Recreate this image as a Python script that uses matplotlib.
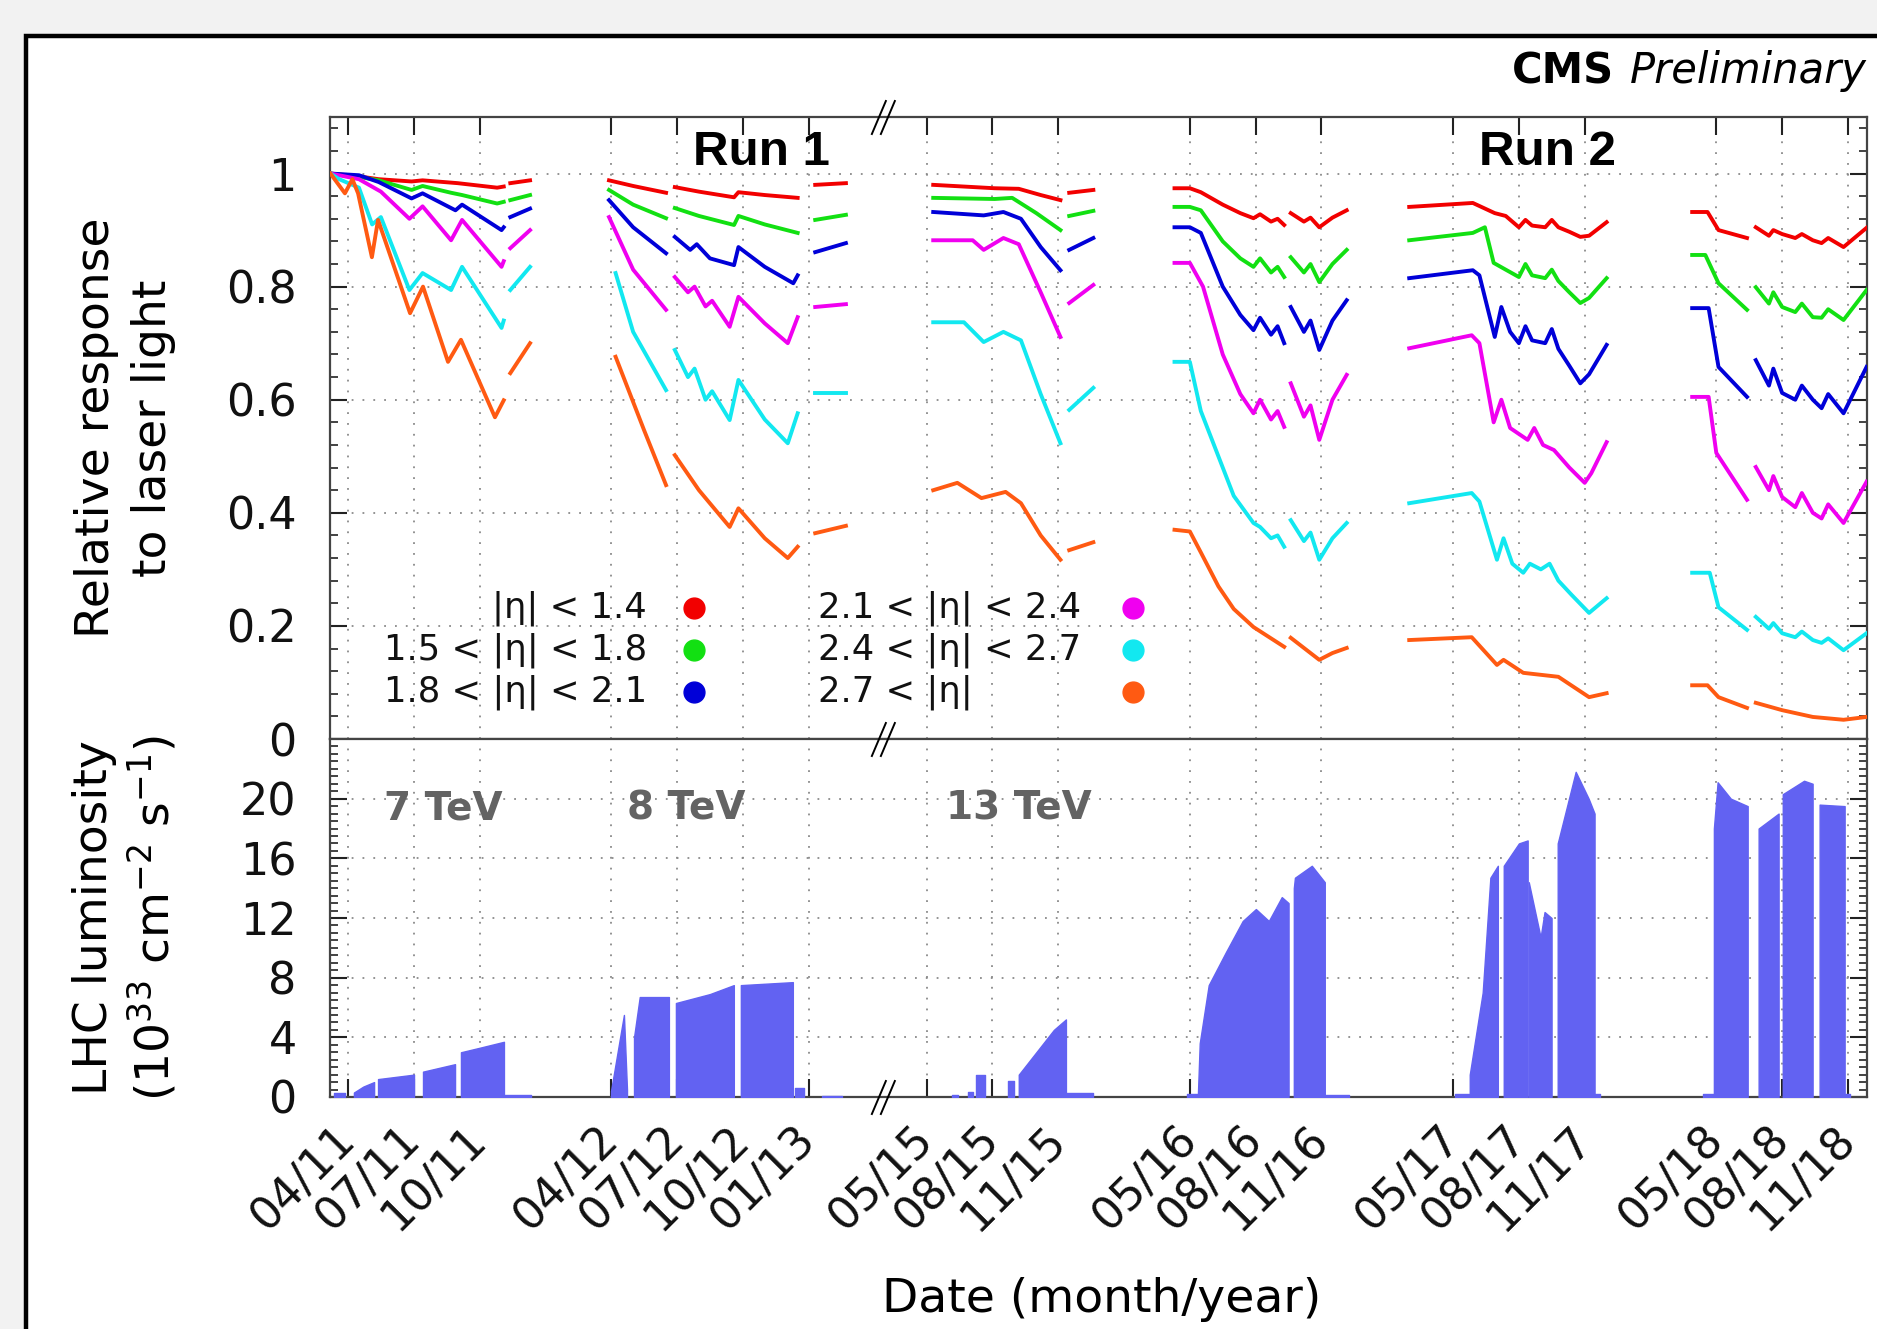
"""CMS ECAL: relative response to laser light and LHC luminosity, Run 1 and Run 2."""

import matplotlib
matplotlib.use("Agg")
import matplotlib.pyplot as plt
from matplotlib.lines import Line2D
from matplotlib.patches import Rectangle
from matplotlib.ticker import FixedLocator, MultipleLocator


W, H = 1877, 1329
GAP = 22.62        # months cut out of the axis between 01/13 and 05/15
BREAK_AT = 27.43   # where the // marks sit, in squeezed months

# x values: months since Jan 2011 (3.0 = 04/11)
TICK_MONTHS = [3, 6, 9, 15, 18, 21, 24, 52, 55, 58, 64, 67, 70, 76, 79, 82, 88, 91, 94]
TICK_LABELS = ["04/11", "07/11", "10/11", "04/12", "07/12", "10/12", "01/13",
               "05/15", "08/15", "11/15", "05/16", "08/16", "11/16",
               "05/17", "08/17", "11/17", "05/18", "08/18", "11/18"]

ETA_LABELS = ["|η| < 1.4", "1.5 < |η| < 1.8", "1.8 < |η| < 2.1",
              "2.1 < |η| < 2.4", "2.4 < |η| < 2.7", "2.7 < |η|"]
ETA_COLORS = ["#f20000", "#12e012", "#0000d8", "#f000f0", "#12e8f0", "#ff5a12"]

# laser response, one list of segments per eta ring
RESP_ETA1 = [
    [(2.2, 1.0), (3.5, 0.995), (4.4, 0.99), (5.9, 0.986), (6.4, 0.988), (8.0, 0.983), (9.8, 0.975), (10.1, 0.977)],
    [(10.4, 0.983), (11.3, 0.988)],
    [(14.9, 0.988), (16.0, 0.978), (17.5, 0.966)],
    [(17.9, 0.976), (19.0, 0.968), (20.6, 0.958), (20.8, 0.967), (22.0, 0.962), (23.5, 0.957)],
    [(24.3, 0.98), (25.7, 0.983)],
    [(52.3, 0.98), (55.1, 0.974), (56.2, 0.973), (57.2, 0.962), (58.1, 0.953)],
    [(58.5, 0.966), (59.6, 0.971)],
    [(63.3, 0.974), (64.0, 0.974), (64.5, 0.967), (65.5, 0.945), (66.3, 0.93), (66.9, 0.921),
     (67.2, 0.928), (67.7, 0.915), (68.0, 0.92), (68.3, 0.909)],
    [(68.6, 0.93), (69.2, 0.915), (69.5, 0.922), (69.9, 0.905), (70.5, 0.922), (71.15, 0.935)],
    [(74.0, 0.941), (76.9, 0.948), (77.9, 0.93), (78.4, 0.925), (79.0, 0.905), (79.3, 0.918),
     (79.6, 0.908), (80.2, 0.905), (80.5, 0.918), (80.8, 0.905), (81.3, 0.897), (81.8, 0.888),
     (82.2, 0.89), (83.0, 0.914)],
    [(86.9, 0.932), (87.6, 0.932), (88.1, 0.90), (89.4, 0.886)],
    [(89.8, 0.905), (90.4, 0.89), (90.6, 0.90), (91.0, 0.893), (91.6, 0.886), (91.9, 0.893),
     (92.4, 0.882), (92.8, 0.877), (93.1, 0.886), (93.8, 0.87), (94.85, 0.904)],
]
RESP_ETA2 = [
    [(2.2, 1.0), (3.5, 0.994), (4.4, 0.988), (5.9, 0.971), (6.4, 0.978), (7.7, 0.966), (8.2, 0.962), (9.8, 0.947), (10.1, 0.95)],
    [(10.4, 0.953), (11.3, 0.962)],
    [(14.9, 0.971), (16.0, 0.945), (17.5, 0.921)],
    [(17.9, 0.939), (19.0, 0.925), (20.6, 0.909), (20.8, 0.925), (22.0, 0.91), (23.5, 0.895)],
    [(24.3, 0.918), (25.7, 0.927)],
    [(52.3, 0.957), (55.1, 0.955), (55.9, 0.957), (57.0, 0.93), (58.1, 0.90)],
    [(58.5, 0.925), (59.6, 0.934)],
    [(63.3, 0.941), (64.0, 0.941), (64.5, 0.935), (65.5, 0.88), (66.3, 0.85), (66.9, 0.835),
     (67.2, 0.85), (67.7, 0.825), (68.0, 0.835), (68.3, 0.817)],
    [(68.6, 0.852), (69.2, 0.825), (69.5, 0.84), (69.9, 0.808), (70.5, 0.84), (71.15, 0.865)],
    [(74.0, 0.882), (76.9, 0.895), (77.45, 0.905), (77.85, 0.842), (78.4, 0.83), (79.0, 0.817),
     (79.3, 0.84), (79.6, 0.82), (80.2, 0.815), (80.5, 0.83), (80.8, 0.81), (81.3, 0.79),
     (81.8, 0.771), (82.2, 0.78), (83.0, 0.815)],
    [(86.9, 0.856), (87.5, 0.856), (88.1, 0.806), (89.4, 0.759)],
    [(89.8, 0.799), (90.4, 0.77), (90.6, 0.79), (91.0, 0.764), (91.6, 0.755), (91.9, 0.77),
     (92.4, 0.746), (92.8, 0.745), (93.1, 0.76), (93.8, 0.741), (94.85, 0.794)],
]
RESP_ETA3 = [
    [(2.2, 1.0), (3.5, 0.997), (4.4, 0.985), (5.9, 0.956), (6.4, 0.965), (7.9, 0.935), (8.2, 0.945), (10.0, 0.90), (10.1, 0.905)],
    [(10.4, 0.923), (11.3, 0.938)],
    [(14.9, 0.953), (16.0, 0.905), (17.5, 0.859)],
    [(17.9, 0.888), (18.6, 0.865), (18.9, 0.875), (19.5, 0.85), (20.6, 0.838), (20.8, 0.87),
     (22.0, 0.835), (23.3, 0.806), (23.5, 0.82)],
    [(24.3, 0.861), (25.7, 0.877)],
    [(52.3, 0.932), (54.6, 0.926), (55.5, 0.932), (56.3, 0.92), (57.2, 0.87), (58.1, 0.829)],
    [(58.5, 0.865), (59.6, 0.886)],
    [(63.3, 0.905), (64.0, 0.905), (64.5, 0.895), (65.5, 0.80), (66.3, 0.75), (66.9, 0.723),
     (67.2, 0.745), (67.7, 0.715), (68.0, 0.73), (68.3, 0.70)],
    [(68.6, 0.764), (69.2, 0.72), (69.5, 0.74), (69.9, 0.688), (70.5, 0.74), (71.15, 0.776)],
    [(74.0, 0.815), (76.9, 0.829), (77.2, 0.82), (77.9, 0.711), (78.2, 0.764), (78.6, 0.72),
     (79.0, 0.70), (79.3, 0.73), (79.6, 0.705), (80.2, 0.70), (80.5, 0.725), (80.8, 0.69),
     (81.3, 0.66), (81.8, 0.629), (82.2, 0.645), (83.0, 0.697)],
    [(86.9, 0.762), (87.65, 0.762), (88.1, 0.658), (89.4, 0.605)],
    [(89.8, 0.67), (90.4, 0.625), (90.6, 0.655), (91.0, 0.612), (91.6, 0.60), (91.9, 0.625),
     (92.4, 0.60), (92.8, 0.585), (93.1, 0.61), (93.8, 0.576), (94.85, 0.658)],
]
RESP_ETA4 = [
    [(2.2, 1.0), (3.5, 0.99), (4.5, 0.968), (5.8, 0.92), (6.4, 0.942), (7.7, 0.882), (8.2, 0.918), (10.0, 0.835), (10.1, 0.845)],
    [(10.4, 0.868), (11.3, 0.90)],
    [(14.9, 0.923), (16.0, 0.83), (17.5, 0.759)],
    [(17.9, 0.817), (18.5, 0.79), (18.8, 0.80), (19.3, 0.765), (19.6, 0.775), (20.4, 0.729),
     (20.8, 0.782), (22.0, 0.735), (23.05, 0.70), (23.5, 0.746)],
    [(24.3, 0.764), (25.7, 0.769)],
    [(52.3, 0.882), (54.1, 0.882), (54.6, 0.865), (55.5, 0.886), (56.2, 0.875), (57.2, 0.79), (58.1, 0.711)],
    [(58.5, 0.771), (59.6, 0.803)],
    [(63.3, 0.842), (64.0, 0.842), (64.6, 0.80), (65.5, 0.68), (66.3, 0.61), (66.9, 0.576),
     (67.2, 0.60), (67.7, 0.565), (68.0, 0.58), (68.3, 0.552)],
    [(68.6, 0.629), (69.2, 0.57), (69.5, 0.59), (69.9, 0.529), (70.5, 0.60), (71.15, 0.644)],
    [(74.0, 0.691), (76.85, 0.714), (77.2, 0.70), (77.85, 0.56), (78.2, 0.60), (78.6, 0.55),
     (79.4, 0.529), (79.7, 0.55), (80.1, 0.52), (80.6, 0.511), (81.3, 0.48), (82.0, 0.453),
     (82.3, 0.47), (83.0, 0.525)],
    [(86.9, 0.605), (87.65, 0.605), (88.0, 0.506), (89.4, 0.423)],
    [(89.8, 0.481), (90.4, 0.44), (90.6, 0.465), (91.0, 0.428), (91.6, 0.41), (91.9, 0.435),
     (92.4, 0.40), (92.8, 0.39), (93.1, 0.415), (93.8, 0.382), (94.85, 0.455)],
]
RESP_ETA5 = [
    [(2.2, 1.0), (2.6, 0.99), (3.5, 0.975), (4.1, 0.91), (4.5, 0.923), (5.8, 0.794), (6.4, 0.824), (7.7, 0.794), (8.2, 0.835), (10.0, 0.727), (10.1, 0.74)],
    [(10.4, 0.794), (11.3, 0.835)],
    [(15.2, 0.824), (16.0, 0.72), (17.5, 0.617)],
    [(17.9, 0.688), (18.5, 0.64), (18.8, 0.655), (19.3, 0.60), (19.6, 0.615), (20.4, 0.564),
     (20.8, 0.635), (22.0, 0.565), (23.05, 0.523), (23.5, 0.576)],
    [(24.3, 0.612), (25.7, 0.612)],
    [(52.3, 0.737), (53.7, 0.737), (54.6, 0.702), (55.5, 0.72), (56.3, 0.705), (57.2, 0.61), (58.1, 0.523)],
    [(58.5, 0.582), (59.6, 0.621)],
    [(63.3, 0.667), (64.0, 0.667), (64.5, 0.58), (65.3, 0.50), (66.0, 0.43), (66.9, 0.382),
     (67.2, 0.375), (67.7, 0.355), (68.0, 0.36), (68.3, 0.34)],
    [(68.6, 0.387), (69.2, 0.35), (69.5, 0.365), (69.9, 0.317), (70.5, 0.355), (71.15, 0.382)],
    [(74.0, 0.417), (76.85, 0.435), (77.2, 0.42), (78.0, 0.317), (78.3, 0.355), (78.7, 0.31),
     (79.2, 0.294), (79.5, 0.31), (80.0, 0.30), (80.4, 0.31), (80.8, 0.28), (81.4, 0.255),
     (82.2, 0.223), (83.0, 0.249)],
    [(86.9, 0.294), (87.7, 0.294), (88.1, 0.233), (89.4, 0.193)],
    [(89.8, 0.216), (90.4, 0.195), (90.6, 0.205), (91.0, 0.187), (91.6, 0.18), (91.9, 0.19),
     (92.4, 0.175), (92.8, 0.17), (93.1, 0.178), (93.8, 0.157), (94.85, 0.187)],
]
RESP_ETA6 = [
    [(2.2, 1.0), (2.86, 0.965), (3.2, 0.99), (3.46, 0.965), (4.09, 0.852), (4.37, 0.918), (5.83, 0.753), (6.42, 0.80), (7.56, 0.667), (8.15, 0.706), (9.7, 0.569), (10.1, 0.599)],
    [(10.4, 0.647), (11.3, 0.70)],
    [(15.2, 0.676), (16.5, 0.546), (17.5, 0.449)],
    [(17.9, 0.502), (19.0, 0.44), (20.4, 0.375), (20.8, 0.408), (22.0, 0.355), (23.05, 0.32), (23.5, 0.34)],
    [(24.3, 0.364), (25.7, 0.377)],
    [(52.3, 0.44), (53.4, 0.453), (54.5, 0.426), (55.6, 0.437), (56.3, 0.417), (57.2, 0.36), (58.1, 0.317)],
    [(58.5, 0.334), (59.6, 0.348)],
    [(63.3, 0.37), (64.0, 0.367), (64.5, 0.33), (65.3, 0.27), (66.0, 0.23), (66.9, 0.198), (68.3, 0.163)],
    [(68.6, 0.179), (69.9, 0.14), (70.5, 0.152), (71.15, 0.161)],
    [(74.0, 0.175), (76.85, 0.18), (78.0, 0.131), (78.3, 0.14), (79.2, 0.117), (80.8, 0.11), (82.2, 0.074), (83.0, 0.081)],
    [(86.9, 0.095), (87.6, 0.095), (88.1, 0.074), (89.4, 0.055)],
    [(89.8, 0.064), (91.0, 0.051), (92.4, 0.039), (93.8, 0.034), (94.85, 0.039)],
]
RESPONSES = [RESP_ETA1, RESP_ETA2, RESP_ETA3, RESP_ETA4, RESP_ETA5, RESP_ETA6]

# peak instantaneous luminosity (1e33 cm-2 s-1), one list per fill block
LUMI_2011 = [
    [(2.36, 0.25), (2.86, 0.25)],
    [(3.27, 0.3), (3.7, 0.7), (4.19, 1.0)],
    [(4.37, 1.2), (6.01, 1.5)],
    [(6.42, 1.7), (7.88, 2.2)],
    [(8.15, 3.0), (9.0, 3.3), (10.11, 3.7)],
    [(10.11, 0.12), (11.34, 0.12)],
]
LUMI_2012 = [
    [(14.99, 0.4), (15.58, 5.5), (15.72, 0.5)],
    [(16.04, 4.0), (16.3, 6.7), (17.63, 6.7)],
    [(17.95, 6.3), (19.5, 6.9), (20.59, 7.5)],
    [(20.91, 7.5), (23.28, 7.7)],
    [(23.37, 0.6), (23.78, 0.6)],
    [(24.6, 0.1), (25.5, 0.1)],
]
LUMI_2015 = [
    [(53.15, 0.15), (53.42, 0.15)],
    [(53.9, 0.35), (54.1, 0.35)],
    [(54.24, 1.5), (54.65, 1.5)],
    [(55.70, 1.1), (55.98, 1.1)],
    [(56.20, 1.5), (57.0, 3.0), (57.8, 4.5), (58.35, 5.2)],
    [(58.35, 0.3), (59.58, 0.3)],
]
LUMI_2016 = [
    [(63.86, 0.2), (64.37, 0.2)],
    [(64.37, 0.3), (64.45, 3.6), (64.86, 7.5), (65.64, 9.7), (66.41, 11.8), (67.01, 12.6), (67.6, 11.8), (68.19, 13.4), (68.5, 13.0)],
    [(68.74, 14.0), (68.79, 14.7), (69.56, 15.5), (70.15, 14.4)],
    [(70.15, 0.12), (71.25, 0.12)],
]
LUMI_2017 = [
    [(76.08, 0.2), (76.76, 0.2)],
    [(76.76, 1.5), (77.35, 7.0), (77.7, 14.7), (78.04, 15.5)],
    [(78.31, 15.5), (79.0, 17.0), (79.40, 17.2)],
    [(79.45, 14.4), (79.99, 10.7), (80.17, 12.4), (80.49, 12.0)],
    [(80.77, 17.0), (81.59, 21.8), (82.18, 20.0), (82.45, 19.0)],
    [(82.45, 0.2), (82.7, 0.2)],
]
LUMI_2018 = [
    [(87.39, 0.2), (87.89, 0.2)],
    [(87.89, 18.0), (88.06, 21.1), (88.66, 20.0), (89.43, 19.5)],
    [(89.93, 18.0), (90.84, 19.0)],
    [(91.03, 20.3), (92.0, 21.2), (92.39, 21.0)],
    [(92.71, 19.6), (93.85, 19.5)],
    [(93.85, 0.2), (94.1, 0.2)],
]
LUMI_BLOCKS = LUMI_2011 + LUMI_2012 + LUMI_2015 + LUMI_2016 + LUMI_2017 + LUMI_2018
LUMI_COLOR = "#6262f2"


def squeeze(month):
    """Map real months onto the broken axis (2013-2014 removed)."""
    return month if month < 30 else month - GAP


def fx(px):
    return px / W


def fy(py):
    return 1.0 - py / H


plt.rcParams["font.family"] = ["DejaVu Sans"]
plt.rcParams["mathtext.default"] = "regular"

fig = plt.figure(figsize=(W / 100, H / 100), dpi=100)
fig.patch.set_facecolor("#f2f2f2")
fig.add_artist(Rectangle((fx(26), -0.2), 1.2, fy(36) + 0.2, transform=fig.transFigure,
                         facecolor="white", edgecolor="black", linewidth=3.2, zorder=-5))

ax1 = fig.add_axes([fx(330), fy(739), (1867 - 330) / W, (739 - 117) / H])
ax2 = fig.add_axes([fx(330), fy(1097), (1867 - 330) / W, (1097 - 739) / H], sharex=ax1)

for series, color in zip(RESPONSES, ETA_COLORS):
    for seg in series:
        xs = [squeeze(m) for m, _ in seg]
        ys = [v for _, v in seg]
        ax1.plot(xs, ys, color=color, lw=2.8, zorder=3)

for block in LUMI_BLOCKS:
    xs = [squeeze(m) for m, _ in block]
    ys = [v for _, v in block]
    ax2.fill_between(xs, 0, ys, color=LUMI_COLOR, lw=1.0, zorder=3)

ax1.set_xlim(2.18, 72.25)
ax1.set_ylim(0, 1.1)
ax2.set_ylim(0, 24)

ticks = [squeeze(m) for m in TICK_MONTHS]
ax2.set_xticks(ticks)
ax2.set_xticklabels(TICK_LABELS, rotation=45, ha="right", va="center",
                    rotation_mode="anchor", fontsize=32)

ax1.yaxis.set_major_locator(FixedLocator([0, 0.2, 0.4, 0.6, 0.8, 1.0]))
ax1.set_yticklabels(["0", "0.2", "0.4", "0.6", "0.8", "1"], fontsize=32)
ax1.yaxis.set_minor_locator(MultipleLocator(0.04))
ax2.yaxis.set_major_locator(FixedLocator([0, 4, 8, 12, 16, 20]))
ax2.set_yticklabels(["0", "4", "8", "12", "16", "20"], fontsize=32)
ax2.yaxis.set_minor_locator(MultipleLocator(0.5))

grid_style = dict(color="#8a8a8a", linestyle=(0, (1, 5)), linewidth=1.3)
for ax in (ax1, ax2):
    ax.grid(True, which="major", **grid_style)
    ax.set_axisbelow(True)
    for spine in ax.spines.values():
        spine.set_color("#444444")
        spine.set_linewidth(1.6)
    ax.tick_params(axis="y", which="major", direction="in", left=True, right=True,
                   length=12, width=1.5, pad=24, colors="#222222")
    ax.tick_params(axis="y", which="minor", direction="in", left=True, right=True,
                   length=6, width=1.2, color="#222222")
    ax.tick_params(axis="y", labelcolor="#111111")

ax1.tick_params(axis="x", which="major", direction="in", top=True, bottom=False,
                labelbottom=False, length=13, width=1.5, color="#222222")
ax2.tick_params(axis="x", which="major", direction="in", top=False, bottom=True,
                length=13, width=1.5, pad=26, color="#222222", labelcolor="#111111")
ax1.tick_params(axis="x", which="minor", top=False, bottom=False)
ax2.tick_params(axis="x", which="minor", top=False, bottom=False)


# legend: left column right-aligned, right column left-aligned, dot after text
def ax_pt(px, py):
    return (px - 330) / 1537, (739 - py) / 622


rows_y = [608, 650, 692]
for i, (label, color) in enumerate(zip(ETA_LABELS, ETA_COLORS)):
    py = rows_y[i % 3]
    if i < 3:
        tx, ty = ax_pt(647, py)
        ax1.text(tx, ty, label, transform=ax1.transAxes, ha="right", va="center",
                 fontsize=25.5, color="#111111")
        mx, my = ax_pt(694, py)
    else:
        tx, ty = ax_pt(818, py)
        ax1.text(tx, ty, label, transform=ax1.transAxes, ha="left", va="center",
                 fontsize=25.5, color="#111111")
        mx, my = ax_pt(1133, py)
    ax1.plot([mx], [my], "o", color=color, ms=15, transform=ax1.transAxes, zorder=4)

# run and energy labels
ax1.text(21.87, 1.015, "Run 1", ha="center", va="baseline", fontsize=35.5,
         fontweight="bold", family="Liberation Sans", color="black")
ax1.text(squeeze(80.31), 1.015, "Run 2", ha="center", va="baseline", fontsize=35.5,
         fontweight="bold", family="Liberation Sans", color="black")
for xm, label in ((4.64, "7 TeV"), (15.72, "8 TeV"), (52.88, "13 TeV")):
    ax2.text(squeeze(xm), 18.6, label, ha="left", va="baseline", fontsize=28,
             fontweight="bold", color="#636363")

# axis titles
fig.text(fx(97), fy(428), "Relative response", rotation=90, ha="center", va="center", fontsize=34)
fig.text(fx(153), fy(428), "to laser light", rotation=90, ha="center", va="center", fontsize=34)
fig.text(fx(95), fy(918), "LHC luminosity", rotation=90, ha="center", va="center", fontsize=34)
fig.text(fx(153), fy(918), r"(10$^{33}$ cm$^{-2}$ s$^{-1}$)", rotation=90,
         ha="center", va="center", fontsize=34)
fig.text(fx(1102), fy(1300), "Date (month/year)", ha="center", va="center", fontsize=34)

fig.text(fx(1614), fy(83), "CMS", ha="right", va="baseline", fontsize=30, fontweight="bold")
fig.text(fx(1867), fy(83), "Preliminary", ha="right", va="baseline", fontsize=30, style="italic")

# axis-break marks
xb = ax1.transData.transform((BREAK_AT, 0))[0]
for level in (117, 739, 1097):
    for dx in (-5, 4):
        fig.add_artist(Line2D([fx(xb + dx - 7), fx(xb + dx + 7)],
                              [fy(level + 17), fy(level - 16)],
                              transform=fig.transFigure, color="black", lw=1.4, zorder=10))

fig.savefig("out.png", dpi=100, facecolor=fig.get_facecolor())
